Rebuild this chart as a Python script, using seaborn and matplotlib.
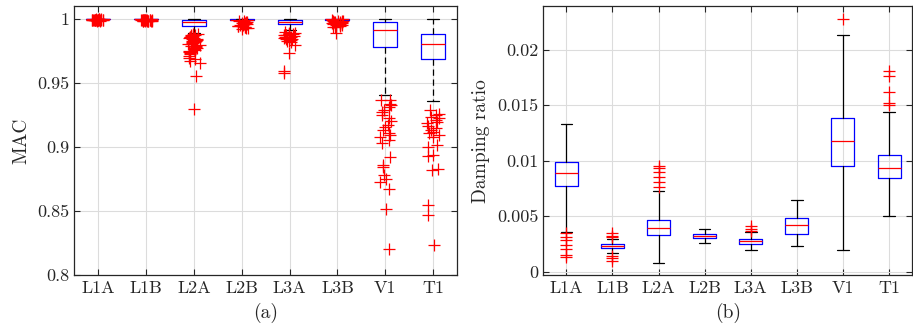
import numpy as np
import pandas as pd
import seaborn as sns
import matplotlib.pyplot as plt
from matplotlib.ticker import FuncFormatter

# === data ===
labels = ["L1A", "L1B", "L2A", "L2B", "L3A", "L3B", "V1", "T1"]

# (a) MAC box statistics
mac_q1 = [0.99985, 0.9998, 0.9948, 0.9990, 0.9959, 0.9996, 0.9779, 0.9690]
mac_med = [0.99995, 0.9999, 0.9974, 0.9995, 0.9977, 0.9998, 0.9914, 0.9805]
mac_q3 = [1.0, 1.0, 0.9990, 1.0, 0.9990, 1.0, 0.9974, 0.9880]
mac_wlo = [0.9997, 0.9996, 0.9890, 0.9985, 0.9915, 0.9992, 0.9404, 0.9360]
mac_whi = [1.0, 1.0, 1.0, 1.0, 1.0, 1.0, 1.0, 1.0]

# (a) MAC outliers
mac_out_L1A = [0.9999, 0.9998, 0.9997, 0.9996, 0.9995, 0.9994, 0.9993, 0.9992, 0.9991,
               0.9990, 0.9995, 0.9993, 0.9991, 0.9989, 0.9988, 0.9997, 0.9994, 0.9992,
               0.9990, 0.9987, 0.9996, 0.9993, 0.9989]
mac_out_L1B = [0.9995, 0.9994, 0.9993, 0.9992, 0.9991, 0.9990, 0.9989, 0.9988, 0.9987,
               0.9986, 0.9993, 0.9991, 0.9989, 0.9987, 0.9985, 0.9994, 0.9990, 0.9988,
               0.9992, 0.9986, 0.9984]
mac_out_L2A = [0.9885, 0.9880, 0.9876, 0.9872, 0.9868, 0.9865, 0.9861, 0.9858, 0.9855,
               0.9851, 0.9848, 0.9845, 0.9842, 0.9839, 0.9836, 0.9833, 0.9830, 0.9826,
               0.9822, 0.9818, 0.9814, 0.9810, 0.9806, 0.9802, 0.9797, 0.9792, 0.9787,
               0.9781, 0.9775, 0.9768, 0.9760, 0.9752, 0.9744, 0.9735, 0.9725, 0.9712,
               0.9700, 0.9685, 0.9670, 0.9655, 0.9555, 0.9300]
mac_out_L2B = [0.9985, 0.9982, 0.9979, 0.9976, 0.9973, 0.9970, 0.9967, 0.9964, 0.9961,
               0.9958, 0.9955, 0.9952, 0.9949, 0.9946, 0.9943, 0.9940, 0.9937, 0.9934,
               0.9930, 0.9926]
mac_out_L3A = [0.9898, 0.9893, 0.9890, 0.9887, 0.9884, 0.9881, 0.9878, 0.9875, 0.9872,
               0.9868, 0.9864, 0.9860, 0.9856, 0.9852, 0.9848, 0.9843, 0.9838, 0.9832,
               0.9826, 0.9820, 0.9800, 0.9732, 0.9596, 0.9576]
mac_out_L3B = [0.9990, 0.9988, 0.9986, 0.9984, 0.9982, 0.9980, 0.9978, 0.9976, 0.9974,
               0.9972, 0.9970, 0.9968, 0.9966, 0.9963, 0.9960, 0.9957, 0.9954, 0.9950,
               0.9946, 0.9940, 0.9935, 0.9895]
mac_out_V1 = [0.9367, 0.9372, 0.9341, 0.9315, 0.9328, 0.9289, 0.9276, 0.9250, 0.9224,
              0.9206, 0.9172, 0.9159, 0.9133, 0.9107, 0.9094, 0.9081, 0.9029, 0.9055,
              0.8924, 0.8846, 0.8859, 0.8781, 0.8755, 0.8729, 0.8677, 0.8516, 0.8208]
mac_out_T1 = [0.9289, 0.9263, 0.9250, 0.9237, 0.9224, 0.9211, 0.9198, 0.9185, 0.9164,
              0.9146, 0.9133, 0.9120, 0.9107, 0.9094, 0.9081, 0.9016, 0.9003, 0.8937,
              0.8930, 0.8833, 0.8820, 0.8547, 0.8469, 0.8240]

# (b) damping ratio box statistics
dr_q1 = [0.00772, 0.00216, 0.00333, 0.00303, 0.00252, 0.00342, 0.00955, 0.00844]
dr_med = [0.00889, 0.00231, 0.00390, 0.00318, 0.00273, 0.00417, 0.01174, 0.00931]
dr_q3 = [0.00985, 0.00246, 0.00468, 0.00336, 0.00291, 0.00480, 0.01384, 0.01048]
dr_wlo = [0.00354, 0.00165, 0.00075, 0.00261, 0.00198, 0.00231, 0.00192, 0.00501]
dr_whi = [0.01327, 0.00294, 0.00727, 0.00381, 0.00360, 0.00649, 0.02132, 0.01435]

# (b) damping ratio outliers
dr_out_L1A = [0.00345, 0.00315, 0.00285, 0.00240, 0.00200, 0.00150, 0.00135]
dr_out_L1B = [0.00350, 0.00320, 0.00310, 0.00140, 0.00120, 0.00100]
dr_out_L2A = [0.00955, 0.00931, 0.00901, 0.00856, 0.00811, 0.00766]
dr_out_L2B = []
dr_out_L3A = [0.00414, 0.00387, 0.00369]
dr_out_L3B = []
dr_out_V1 = [0.02279]
dr_out_T1 = [0.01811, 0.01763, 0.01622, 0.01517, 0.01498]

mac_out = [mac_out_L1A, mac_out_L1B, mac_out_L2A, mac_out_L2B,
           mac_out_L3A, mac_out_L3B, mac_out_V1, mac_out_T1]
dr_out = [dr_out_L1A, dr_out_L1B, dr_out_L2A, dr_out_L2B,
          dr_out_L3A, dr_out_L3B, dr_out_V1, dr_out_T1]


def to_stats(q1, med, q3, wlo, whi):
    return [dict(q1=a, med=b, q3=c, whislo=d, whishi=e, label=l)
            for a, b, c, d, e, l in zip(q1, med, q3, wlo, whi, labels)]


def to_frame(out):
    rows = [(lab, v) for lab, vals in zip(labels, out) for v in vals]
    return pd.DataFrame(rows, columns=["group", "value"])


# === style ===
sns.set_theme(style="ticks")
plt.rcParams["font.family"] = ["cmr10", "DejaVu Serif"]
plt.rcParams["axes.formatter.use_mathtext"] = True
plt.rcParams["mathtext.fontset"] = "cm"

fig = plt.figure(figsize=(9.13, 3.34), dpi=100)
ax1 = fig.add_axes([0.0814, 0.1757, 0.4192, 0.8063])
ax2 = fig.add_axes([0.5951, 0.1757, 0.4039, 0.8063])

np.random.seed(3)


def draw(ax, stats, out, whisker_ls, jitter):
    ax.bxp(stats, positions=range(len(labels)), widths=0.5, showfliers=False,
           boxprops=dict(color="blue", linewidth=0.9),
           medianprops=dict(color="red", linewidth=0.9),
           whiskerprops=dict(color="black", linewidth=0.9, linestyle=whisker_ls),
           capprops=dict(color="black", linewidth=0.9), zorder=3)
    sns.stripplot(data=to_frame(out), x="group", y="value", order=labels,
                  marker="+", color="red", s=8, linewidth=0.9,
                  jitter=jitter, ax=ax, zorder=4)
    ax.set_xlim(-0.5, 7.5)
    ax.set_xticks(range(len(labels)))
    ax.set_xticklabels(labels)
    ax.grid(True, color="#dcdcdc", linewidth=0.8, zorder=0)
    ax.set_axisbelow(True)
    ax.tick_params(direction="in", top=True, right=True, length=4,
                   labelsize=13, color="#262626", width=0.8)
    for sp in ax.spines.values():
        sp.set_color("#262626")
        sp.set_linewidth(0.9)
    ax.yaxis.set_major_formatter(FuncFormatter(lambda v, p: "%g" % round(v, 6)))


draw(ax1, to_stats(mac_q1, mac_med, mac_q3, mac_wlo, mac_whi), mac_out, (0, (5, 3)), 0.13)
ax1.set_ylim(0.8, 1.0102)
ax1.set_yticks([0.8, 0.85, 0.9, 0.95, 1.0])
ax1.set_ylabel("MAC", fontsize=14, labelpad=5)
ax1.set_xlabel("(a)", fontsize=14, labelpad=5)

draw(ax2, to_stats(dr_q1, dr_med, dr_q3, dr_wlo, dr_whi), dr_out, "-", False)
ax2.set_ylim(-0.00033, 0.02394)
ax2.set_yticks([0, 0.005, 0.01, 0.015, 0.02])
ax2.set_ylabel("Damping ratio", fontsize=14, labelpad=5)
ax2.set_xlabel("(b)", fontsize=14, labelpad=5)

fig.savefig("out.png", dpi=100)
